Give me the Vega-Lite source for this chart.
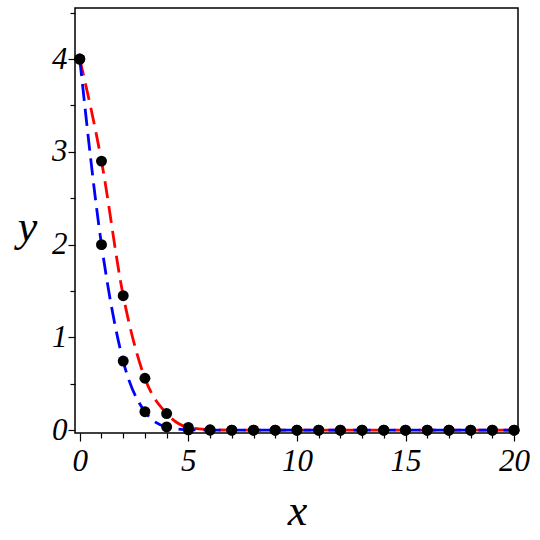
{
  "$schema": "https://vega.github.io/schema/vega-lite/v6.json",
  "width": 443,
  "height": 425,
  "autosize": {"type": "none"},
  "padding": {"left": 75, "top": 8, "right": 22, "bottom": 107},
  "background": "white",
  "config": {
    "view": {"stroke": "#000000", "strokeWidth": 1.5},
    "axis": {"grid": false, "domain": false, "tickColor": "#000000", "tickWidth": 1.2,
             "labelFont": "Liberation Serif", "labelFontStyle": "italic", "labelFontSize": 31, "labelColor": "#000000",
             "titleFont": "Liberation Serif", "titleFontStyle": "italic", "titleFontWeight": "normal", "titleFontSize": 44, "titleColor": "#000000"}
  },
  "data": {"values": [
    {"x": 0, "y": 4, "s": "r"}, {"x": 1, "y": 2.9, "s": "r"}, {"x": 2, "y": 1.45, "s": "r"}, {"x": 3, "y": 0.56, "s": "r"},
    {"x": 4, "y": 0.18, "s": "r"}, {"x": 5, "y": 0.03, "s": "r"}, {"x": 6, "y": 0.005, "s": "r"}, {"x": 7, "y": 0.001, "s": "r"},
    {"x": 8, "y": 0, "s": "r"}, {"x": 9, "y": 0, "s": "r"}, {"x": 10, "y": 0, "s": "r"}, {"x": 11, "y": 0, "s": "r"},
    {"x": 12, "y": 0, "s": "r"}, {"x": 13, "y": 0, "s": "r"}, {"x": 14, "y": 0, "s": "r"}, {"x": 15, "y": 0, "s": "r"},
    {"x": 16, "y": 0, "s": "r"}, {"x": 17, "y": 0, "s": "r"}, {"x": 18, "y": 0, "s": "r"}, {"x": 19, "y": 0, "s": "r"},
    {"x": 20, "y": 0, "s": "r"},
    {"x": 0, "y": 4, "s": "b"}, {"x": 1, "y": 2.0, "s": "b"}, {"x": 2, "y": 0.745, "s": "b"}, {"x": 3, "y": 0.2, "s": "b"},
    {"x": 4, "y": 0.035, "s": "b"}, {"x": 5, "y": 0.005, "s": "b"}, {"x": 6, "y": 0.0005, "s": "b"}, {"x": 7, "y": 0, "s": "b"},
    {"x": 8, "y": 0, "s": "b"}, {"x": 9, "y": 0, "s": "b"}, {"x": 10, "y": 0, "s": "b"}, {"x": 11, "y": 0, "s": "b"},
    {"x": 12, "y": 0, "s": "b"}, {"x": 13, "y": 0, "s": "b"}, {"x": 14, "y": 0, "s": "b"}, {"x": 15, "y": 0, "s": "b"},
    {"x": 16, "y": 0, "s": "b"}, {"x": 17, "y": 0, "s": "b"}, {"x": 18, "y": 0, "s": "b"}, {"x": 19, "y": 0, "s": "b"},
    {"x": 20, "y": 0, "s": "b"}
  ]},
  "encoding": {
    "x": {"field": "x", "type": "quantitative",
          "scale": {"domain": [-0.22, 20.18], "nice": false, "zero": false},
          "axis": {"title": "x", "values": [0,1,2,3,4,5,6,7,8,9,10,11,12,13,14,15,16,17,18,19,20],
                   "labelExpr": "datum.value % 5 === 0 ? format(datum.value, 'd') : ''",
                   "labelOverlap": false, "labelPadding": 5, "labelFlush": false,
                   "tickSize": {"condition": {"test": "datum.value % 5 === 0", "value": 8}, "value": 5},
                   "titleX": 222, "titleY": 91, "titleBaseline": "alphabetic", "titleAlign": "center"}},
    "y": {"field": "y", "type": "quantitative",
          "scale": {"domain": [-0.03, 4.55], "nice": false, "zero": false},
          "axis": {"title": "y", "values": [0,0.5,1,1.5,2,2.5,3,3.5,4,4.5],
                   "labelExpr": "datum.value % 1 === 0 ? format(datum.value, 'd') : ''",
                   "labelOverlap": false, "labelPadding": 1, "labelFlush": false,
                   "tickSize": {"condition": {"test": "datum.value % 1 === 0", "value": 7}, "value": 5},
                   "titleAngle": 0, "titleX": -48, "titleY": 232, "titleBaseline": "alphabetic", "titleAlign": "center"}}
  },
  "layer": [
    {"transform": [{"filter": "datum.s === 'r'"}],
     "mark": {"type": "line", "color": "#ff0000", "strokeWidth": 2.8, "strokeDash": [17, 8], "interpolate": "monotone"}},
    {"transform": [{"filter": "datum.s === 'b'"}],
     "mark": {"type": "line", "color": "#0000ff", "strokeWidth": 2.8, "strokeDash": [17, 8], "interpolate": "monotone"}},
    {"mark": {"type": "point", "filled": true, "color": "#000000", "size": 120, "opacity": 1}}
  ]
}
